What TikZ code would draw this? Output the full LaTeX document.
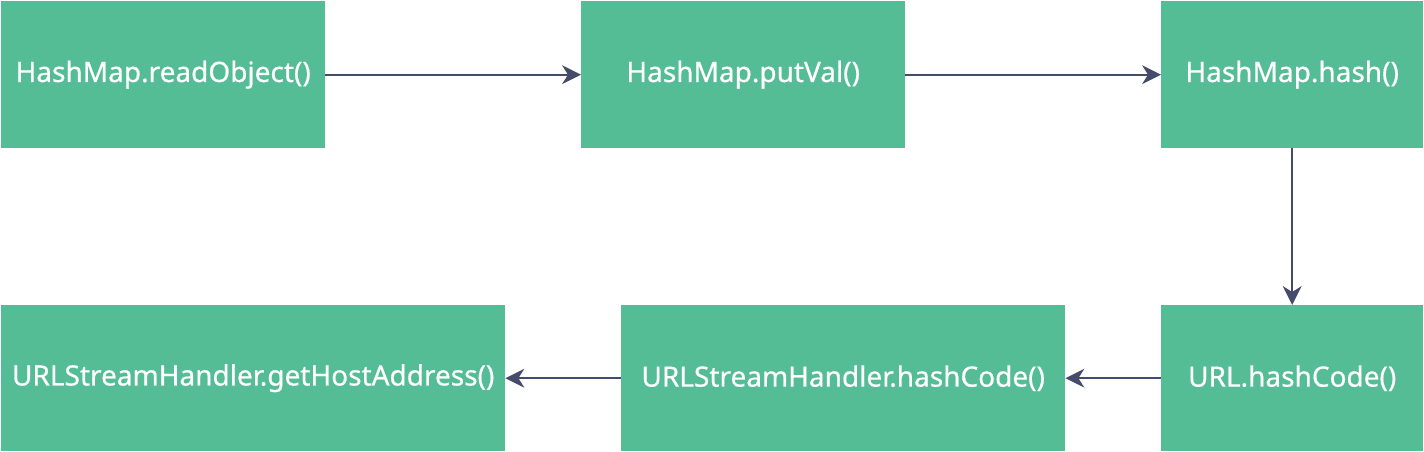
\documentclass[tikz,border=0pt]{standalone}
\usepackage{fontspec}
\setmainfont{Noto Sans}[FakeBold=0.6]
\usetikzlibrary{arrows.meta}
\definecolor{boxgreen}{HTML}{54BD95}
\definecolor{arrowcol}{HTML}{454B6A}
\begin{document}
\begin{tikzpicture}[x=1pt,y=-1pt,
  stepbox/.style={fill=boxgreen,draw=none,inner sep=0pt,text=white,
    font=\fontsize{28}{32}\selectfont\bfseries,anchor=north west},
  conn/.style={draw=arrowcol,line width=2pt,
    -{Stealth[length=19pt,width=19pt,inset=6pt,line width=0pt]}}]
\useasboundingbox (0,0) rectangle (1424,452);
\node[stepbox,minimum width=324pt,minimum height=147pt] (a) at (1,1) {HashMap.readObject()};
\node[stepbox,minimum width=324pt,minimum height=147pt] (b) at (581,1) {HashMap.putVal()};
\node[stepbox,minimum width=262pt,minimum height=147pt] (c) at (1161,1) {HashMap.hash()};
\node[stepbox,minimum width=262pt,minimum height=146pt] (f) at (1161,305) {URL.hashCode()};
\node[stepbox,minimum width=444pt,minimum height=146pt] (e) at (621,305) {URLStreamHandler.hashCode()};
\node[stepbox,minimum width=504pt,minimum height=146pt] (d) at (1,305) {URLStreamHandler.getHostAddress()};
\draw[conn] (a.east) -- (b.west);
\draw[conn] (b.east) -- (c.west);
\draw[conn] (c.south) -- (f.north);
\draw[conn] (f.west) -- (e.east);
\draw[conn] (e.west) -- (d.east);
\end{tikzpicture}
\end{document}
